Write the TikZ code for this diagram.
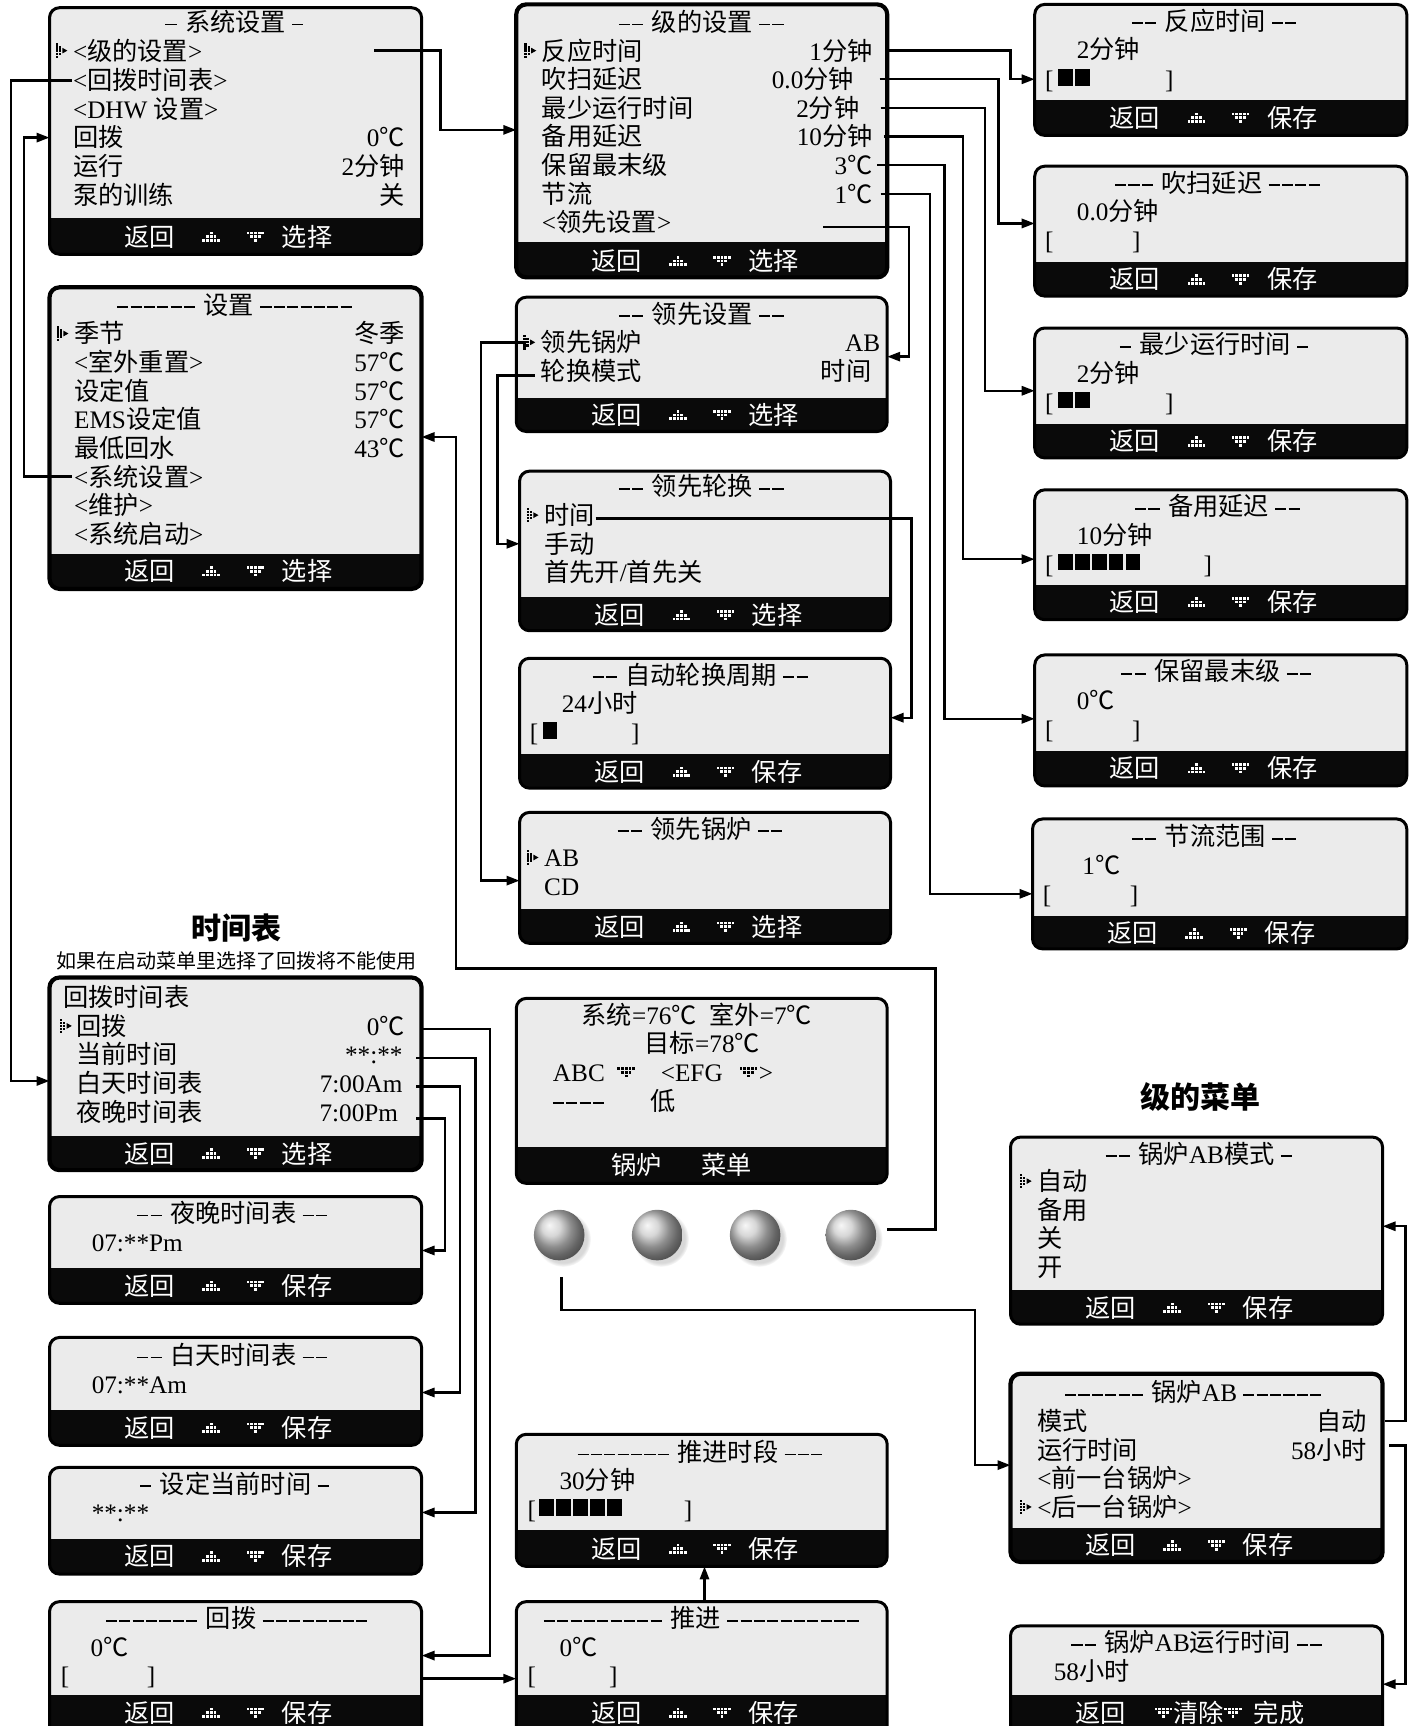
\documentclass[tikz,border=0pt]{standalone}
\usepackage{fontspec}
\setmainfont{Liberation Serif}
\newfontfamily\cjk{Noto Sans CJK SC}
\usetikzlibrary{arrows.meta,fit,shadows}
\XeTeXinterchartokenstate=1
\newXeTeXintercharclass\cjkcls
\count255="3000
\loop
  \XeTeXcharclass\count255=\cjkcls
  \advance\count255 by 1
\ifnum\count255<"A000 \repeat
\XeTeXcharclass"2103=\cjkcls
\XeTeXinterchartoks 0 \cjkcls = {\cjk}
\XeTeXinterchartoks 4095 \cjkcls = {\cjk}
\XeTeXinterchartoks \cjkcls 0 = {\rmfamily}
\XeTeXinterchartoks \cjkcls 4095 = {\rmfamily}
\definecolor{scrbg}{HTML}{EBEBEB}
\definecolor{barc}{HTML}{0A0A0A}
\tikzset{
  t/.style={anchor=west, inner sep=0pt, text height=11pt, text depth=1.6pt, font=\fontsize{12.6}{15}\selectfont},
  tw/.style={t, text=white, anchor=center},
  conn/.style={line width=1.2pt},
  arr/.style={conn, -{Triangle[length=6.5pt,width=4.6pt]}},
  frame/.style={draw, inner sep=0pt, rounded corners=5pt, line width=#1},
}
\newcommand\Dd{\raisebox{0.24em}{\rule{0.44em}{0.07em}}\kern0.09em}
\newcommand\Tl[4]{\node[t] (#1) at (#2,#3) {#4};}
\newcommand\Tr[4]{\node[t,anchor=east] (#1) at (#2,#3) {#4};}
\newcommand\Tc[4]{\node[t,anchor=center] (#1) at (#2,#3) {#4};}
\newcommand\Screen[7]{%
  \begin{scope}
    \clip[rounded corners=5pt] (#2,#3) rectangle (#4,#5);
    \fill[scrbg] (#2,#3) rectangle (#4,#6);
    \fill[barc] (#2,#6) rectangle (#4,#5);
  \end{scope}
  \node[frame=#7, fit={(#2,#3) (#4,#5)}] (#1) {};
}
\newcommand\upic[3][white]{\begin{scope}[shift={({#2},{#3})}]
  \foreach \dx/\dy in {0/-3.4,-3.4/0,0/0,3.4/0,-6.8/3.4,-3.4/3.4,0/3.4,3.4/3.4,6.8/3.4}
    \fill[#1] (\dx-1.25,\dy-1.25) rectangle ++(2.5,2.5);
  \end{scope}}
\newcommand\dnic[3][white]{\begin{scope}[shift={({#2},{#3})}]
  \foreach \dx/\dy in {-6.8/-3.4,-3.4/-3.4,0/-3.4,3.4/-3.4,6.8/-3.4,-3.4/0,0/0,3.4/0,0/3.4}
    \fill[#1] (\dx-1.25,\dy-1.25) rectangle ++(2.5,2.5);
  \end{scope}}
\newcommand\Cur[2]{\begin{scope}[shift={({#1},{#2})}]
  \foreach \dx/\dy in {-4.5/-5.6,-4.5/-2.8,-4.5/0,-4.5/2.8,-4.5/5.6,-1.7/-2.8,-1.7/0,-1.7/2.8}
    \fill (\dx-1.05,\dy-1.05) rectangle ++(2.1,2.1);
  \fill (0.6,-2.6) -- (5.2,0) -- (0.6,2.6) -- cycle;
  \end{scope}}
\newcommand\Blk[3]{\foreach \k in {1,...,#3} \fill ({#1+(\k-1)*15.4},{#2-9}) rectangle ++(13.4,15);}
\newcommand\Foot[4]{%
  \node[tw] (#1-b) at ({#2+91},#3) {返回};
  \upic{#2+147}{#3}
  \dnic{#2+187}{#3}
  \node[tw] (#1-s) at ({#2+234},#3) {#4};
}
\begin{document}
\begin{tikzpicture}[x=0.55pt,y=-0.55pt]
\useasboundingbox[fill=white] (0,0) rectangle (1286,1568);
% ---------- screens
\Screen{A}{45}{7}{383}{231}{198}{1.5pt}
\Screen{B}{469}{4}{806}{252}{220}{2.1pt}
\Screen{C}{45}{261}{383}{535}{503}{2.1pt}
\Screen{D}{469}{270}{806}{392}{362}{1.5pt}
\Screen{E}{472}{428}{809}{573}{542}{1.5pt}
\Screen{F}{472}{598}{809}{716}{685}{1.5pt}
\Screen{G}{472}{738}{809}{857}{826}{1.5pt}
\Screen{R1}{940}{4}{1278}{123}{91}{1.5pt}
\Screen{R2}{940}{151}{1278}{269}{238}{1.5pt}
\Screen{R3}{940}{298}{1278}{416}{385}{1.5pt}
\Screen{R4}{940}{445}{1278}{563}{531}{1.5pt}
\Screen{R5}{940}{595}{1278}{714}{682}{1.5pt}
\Screen{R6}{938}{744}{1278}{862}{832}{1.5pt}
\Screen{H}{45}{888}{383}{1063}{1032}{2.1pt}
\Screen{I}{45}{1087}{383}{1184}{1152}{1.5pt}
\Screen{J}{45}{1215}{383}{1313}{1281}{1.5pt}
\Screen{K}{45}{1333}{383}{1430}{1398}{1.5pt}
\Screen{L}{45}{1455}{383}{1600}{1540}{1.5pt}
\Screen{M}{469}{907}{806}{1075}{1042}{1.5pt}
\Screen{N}{469}{1303}{806}{1423}{1390}{1.5pt}
\Screen{O}{469}{1455}{806}{1600}{1540}{1.5pt}
\Screen{P}{918}{1033}{1256}{1203}{1172}{1.5pt}
\Screen{Q}{918}{1248}{1256}{1419}{1388}{2.1pt}
\Screen{S}{918}{1477}{1256}{1600}{1540}{1.5pt}
% ---------- A
\Tc{A0}{214}{20}{\Dd\ 系统设置 \Dd}
\Cur{56}{46}
\Tl{A1}{66}{46}{<级的设置>}
\Tl{A2}{66}{73}{<回拨时间表>}
\Tl{A3}{66}{99}{<DHW 设置>}
\Tl{A4}{66}{125}{回拨} \Tr{A4v}{368}{125}{0℃}
\Tl{A5}{66}{151}{运行} \Tr{A5v}{368}{151}{2分钟}
\Tl{A6}{66}{177}{泵的训练} \Tr{A6v}{368}{177}{关}
\Foot{A}{45}{215}{选择}
% ---------- B
\Tc{B0}{638}{20}{\Dd\Dd\ 级的设置 \Dd\Dd}
\Cur{482}{46}
\Tl{B1}{492}{46}{反应时间} \Tr{B1v}{793}{46}{1分钟}
\Tl{B2}{492}{72}{吹扫延迟} \Tr{B2v}{776}{72}{0.0分钟}
\Tl{B3}{492}{98}{最少运行时间} \Tr{B3v}{781}{98}{2分钟}
\Tl{B4}{492}{124}{备用延迟} \Tr{B4v}{793}{124}{10分钟}
\Tl{B5}{492}{150}{保留最末级} \Tr{B5v}{793}{150}{3℃}
\Tl{B6}{492}{176}{节流} \Tr{B6v}{793}{176}{1℃}
\Tl{B7}{492}{202}{<领先设置>}
\Foot{B}{469}{237}{选择}
% ---------- C
\Tc{C0}{214}{277}{\Dd\Dd\Dd\Dd\Dd\Dd\ 设置 \Dd\Dd\Dd\Dd\Dd\Dd\Dd}
\Cur{57}{303}
\Tl{C1}{67}{303}{季节} \Tr{C1v}{368}{303}{冬季}
\Tl{C2}{67}{329}{<室外重置>} \Tr{C2v}{368}{329}{57℃}
\Tl{C3}{67}{355}{设定值} \Tr{C3v}{368}{355}{57℃}
\Tl{C4}{67}{381}{EMS设定值} \Tr{C4v}{368}{381}{57℃}
\Tl{C5}{67}{407}{最低回水} \Tr{C5v}{368}{407}{43℃}
\Tl{C6}{67}{433}{<系统设置>}
\Tl{C7}{67}{459}{<维护>}
\Tl{C8}{67}{485}{<系统启动>}
\Foot{C}{45}{519}{选择}
% ---------- D
\Tc{D0}{638}{285}{\Dd\Dd\ 领先设置 \Dd\Dd}
\Cur{481}{311}
\Tl{D1}{491}{311}{领先锅炉} \Tr{D1v}{800}{311}{AB}
\Tl{D2}{491}{337}{轮换模式} \Tr{D2v}{792}{337}{时间}
\Foot{D}{469}{377}{选择}
% ---------- E
\Tc{E0}{638}{442}{\Dd\Dd\ 领先轮换 \Dd\Dd}
\Cur{484}{468}
\Tl{E1}{494}{468}{时间}
\Tl{E2}{494}{494}{手动}
\Tl{E3}{494}{520}{首先开/首先关}
\Foot{E}{472}{559}{选择}
% ---------- F
\Tc{F0}{637}{613}{\Dd\Dd\ 自动轮换周期 \Dd\Dd}
\Tl{F1}{510}{639}{24小时}
\Tl{F2}{481}{665}{[} \Blk{493}{665}{1} \Tl{F3}{573}{665}{]}
\Foot{F}{472}{701}{保存}
% ---------- G
\Tc{G0}{637}{753}{\Dd\Dd\ 领先锅炉 \Dd\Dd}
\Cur{484}{779}
\Tl{G1}{494}{779}{AB}
\Tl{G2}{494}{805}{CD}
\Foot{G}{472}{842}{选择}
% ---------- R column
\Tc{R1t}{1104}{19}{\Dd\Dd\ 反应时间 \Dd\Dd}
\Tl{R1a}{978}{45}{2分钟}
\Tl{R1b}{949}{72}{[} \Blk{961}{72}{2} \Tl{R1c}{1058}{72}{]}
\Foot{R1}{940}{107}{保存}
\Tc{R2t}{1107}{166}{\Dd\Dd\Dd\ 吹扫延迟 \Dd\Dd\Dd\Dd}
\Tl{R2a}{978}{192}{0.0分钟}
\Tl{R2b}{949}{218}{[} \Tl{R2c}{1028}{218}{]}
\Foot{R2}{940}{254}{保存}
\Tc{R3t}{1104}{313}{\Dd\ 最少运行时间 \Dd}
\Tl{R3a}{978}{339}{2分钟}
\Tl{R3b}{949}{365}{[} \Blk{961}{365}{2} \Tl{R3c}{1058}{365}{]}
\Foot{R3}{940}{401}{保存}
\Tc{R4t}{1107}{460}{\Dd\Dd\ 备用延迟 \Dd\Dd}
\Tl{R4a}{978}{486}{10分钟}
\Tl{R4b}{949}{512}{[} \Blk{961}{512}{5} \Tl{R4c}{1093}{512}{]}
\Foot{R4}{940}{547}{保存}
\Tc{R5t}{1106}{610}{\Dd\Dd\ 保留最末级 \Dd\Dd}
\Tl{R5a}{978}{636}{0℃}
\Tl{R5b}{949}{662}{[} \Tl{R5c}{1028}{662}{]}
\Foot{R5}{940}{698}{保存}
\Tc{R6t}{1104}{760}{\Dd\Dd\ 节流范围 \Dd\Dd}
\Tl{R6a}{983}{786}{1℃}
\Tl{R6b}{947}{812}{[} \Tl{R6c}{1026}{812}{]}
\Foot{R6}{938}{848}{保存}
% ---------- headings
\node[inner sep=0pt, font=\fontsize{15}{18}\selectfont\bfseries] (hT) at (215,843) {时间表};
\node[inner sep=0pt, font=\fontsize{10}{12}\selectfont] (hS) at (215,873) {如果在启动菜单里选择了回拨将不能使用};
\node[inner sep=0pt, font=\fontsize{15}{18}\selectfont\bfseries] (hJ) at (1091,997) {级的菜单};
% ---------- H
\Tl{H0}{57}{906}{回拨时间表}
\Cur{60}{932}
\Tl{H1}{69}{932}{回拨} \Tr{H1v}{368}{932}{0℃}
\Tl{H2}{69}{958}{当前时间} \Tr{H2v}{366}{958}{**:**}
\Tl{H3}{69}{984}{白天时间表} \Tr{H3v}{366}{984}{7:00Am}
\Tl{H4}{69}{1010}{夜晚时间表} \Tr{H4v}{362}{1010}{7:00Pm}
\Foot{H}{45}{1048}{选择}
% ---------- I J K L
\Tc{I0}{212}{1102}{\Dd\Dd\ 夜晚时间表 \Dd\Dd}
\Tl{I1}{83}{1128}{07:**Pm}
\Foot{I}{45}{1168}{保存}
\Tc{J0}{212}{1231}{\Dd\Dd\ 白天时间表 \Dd\Dd}
\Tl{J1}{83}{1257}{07:**Am}
\Foot{J}{45}{1297}{保存}
\Tc{K0}{214}{1348}{\Dd\ 设定当前时间 \Dd}
\Tl{K1}{83}{1374}{**:**}
\Foot{K}{45}{1414}{保存}
\Tc{L0}{216}{1470}{\Dd\Dd\Dd\Dd\Dd\Dd\Dd\ 回拨 \Dd\Dd\Dd\Dd\Dd\Dd\Dd\Dd}
\Tl{L1}{82}{1496}{0℃}
\Tl{L2}{55}{1522}{[} \Tl{L3}{133}{1522}{]}
\Foot{L}{45}{1556}{保存}
% ---------- M (main screen)
\Tc{M1}{633}{922}{系统=76℃\hspace{0.5em}室外=7℃}
\Tc{M2}{638}{948}{目标=78℃}
\Tl{M3}{502}{974}{ABC} \dnic[black]{569}{974}
\Tl{M4}{600}{974}{<EFG} \dnic[black]{680}{974} \Tl{M5}{689}{974}{>}
\Tl{M6}{502}{1000}{\Dd\Dd\Dd\Dd} \Tl{M7}{591}{1000}{低}
\node[tw] (M8) at (578,1058) {锅炉};
\node[tw] (M9) at (660,1058) {菜单};
\foreach \i/\x in {1/508,2/597,3/686,4/773}
  \node[circle, inner sep=0pt, minimum size=25.3pt, shade, ball color=gray!42,
        circular drop shadow={shadow xshift=1.8pt, shadow yshift=-1.8pt, opacity=0.3}] (btn\i) at (\x,1122) {};
% ---------- N O
\Tc{N0}{637}{1319}{\Dd\Dd\Dd\Dd\Dd\Dd\Dd\ 推进时段 \Dd\Dd\Dd}
\Tl{N1}{508}{1345}{30分钟}
\Tl{N2}{479}{1371}{[} \Blk{490}{1371}{5} \Tl{N3}{621}{1371}{]}
\Foot{N}{469}{1407}{保存}
\Tc{O0}{638}{1470}{\Dd\Dd\Dd\Dd\Dd\Dd\Dd\Dd\Dd\ 推进 \Dd\Dd\Dd\Dd\Dd\Dd\Dd\Dd\Dd\Dd}
\Tl{O1}{508}{1496}{0℃}
\Tl{O2}{479}{1522}{[} \Tl{O3}{553}{1522}{]}
\Foot{O}{469}{1556}{保存}
% ---------- P Q S
\Tc{P0}{1090}{1048}{\Dd\Dd\ 锅炉AB模式 \Dd}
\Cur{932}{1073}
\Tl{P1}{942}{1073}{自动}
\Tl{P2}{942}{1099}{备用}
\Tl{P3}{942}{1125}{关}
\Tl{P4}{942}{1151}{开}
\Foot{P}{918}{1188}{保存}
\Tc{Q0}{1085}{1265}{\Dd\Dd\Dd\Dd\Dd\Dd\ 锅炉AB \Dd\Dd\Dd\Dd\Dd\Dd}
\Tl{Q1}{942}{1291}{模式} \Tr{Q1v}{1242}{1291}{自动}
\Tl{Q2}{942}{1317}{运行时间} \Tr{Q2v}{1242}{1317}{58小时}
\Tl{Q3}{942}{1343}{<前一台锅炉>}
\Cur{932}{1369}
\Tl{Q4}{942}{1369}{<后一台锅炉>}
\Foot{Q}{918}{1404}{保存}
\Tc{S0}{1088}{1492}{\Dd\Dd\ 锅炉AB运行时间 \Dd\Dd}
\Tl{S1}{957}{1518}{58小时}
\node[tw] (S-b) at (1000,1556) {返回};
\dnic{1057}{1556}
\node[tw] (S-c) at (1089,1556) {清除};
\dnic{1120}{1556}
\node[tw] (S-d) at (1162,1556) {完成};
% ---------- connector end points
\coordinate (a1s) at (340,46);   \coordinate (bin) at (469,118);
\coordinate (a2s) at (65,73);    \coordinate (hin) at (45,982);
\coordinate (c6s) at (65,433);   \coordinate (ain) at (45,125);
\coordinate (b1s) at (808,46);   \coordinate (r1in) at (940,72);
\coordinate (b2s) at (799,72);   \coordinate (r2in) at (940,203);
\coordinate (b3s) at (800,98);   \coordinate (r3in) at (940,355);
\coordinate (b4s) at (803,124);  \coordinate (r4in) at (940,508);
\coordinate (b5s) at (797,150);  \coordinate (r5in) at (940,653);
\coordinate (b6s) at (800,176);  \coordinate (r6in) at (938,812);
\coordinate (b7s) at (748,206);  \coordinate (din) at (806,324);
\coordinate (d1s) at (478,311);  \coordinate (gin) at (472,800);
\coordinate (d2s) at (486,341);  \coordinate (ein) at (472,494);
\coordinate (e1s) at (541,471);  \coordinate (fin) at (809,652);
\coordinate (h1s) at (383,935);  \coordinate (lin) at (383,1504);
\coordinate (h2s) at (378,961);  \coordinate (kin) at (383,1374);
\coordinate (h3s) at (378,987);  \coordinate (jin) at (383,1265);
\coordinate (h4s) at (378,1016); \coordinate (iin) at (383,1136);
\coordinate (ls) at (383,1525);  \coordinate (oin) at (469,1525);
\coordinate (os) at (640,1455);  \coordinate (nin) at (640,1423);
\coordinate (m4s) at (806,1117); \coordinate (cin) at (383,397);
\coordinate (m1s) at (510,1160); \coordinate (qin) at (918,1331);
\coordinate (q1s) at (1258,1291); \coordinate (pin) at (1256,1114);
\coordinate (q2s) at (1262,1313); \coordinate (sin) at (1256,1530);
% ---------- connectors
\draw[arr] (a1s) -- (400,46) |- (bin);
\draw[arr] (a2s) -- (10,73) |- (hin);
\draw[arr] (c6s) -- (22,433) |- (ain);
\draw[arr] (b1s) -- (918,46) |- (r1in);
\draw[arr] (b2s) -- (907,72) |- (r2in);
\draw[arr] (b3s) -- (895,98) |- (r3in);
\draw[arr] (b4s) -- (875,124) |- (r4in);
\draw[arr] (b5s) -- (858,150) |- (r5in);
\draw[arr] (b6s) -- (845,176) |- (r6in);
\draw[arr] (b7s) -- (826,206) |- (din);
\draw[arr] (d1s) -- (437,311) |- (gin);
\draw[arr] (d2s) -- (452,341) |- (ein);
\draw[arr] (e1s) -- (828,471) |- (fin);
\draw[arr] (h1s) -- (445,935) |- (lin);
\draw[arr] (h2s) -- (432,961) |- (kin);
\draw[arr] (h3s) -- (418,987) |- (jin);
\draw[arr] (h4s) -- (404,1016) |- (iin);
\draw[arr] (ls) -- (oin);
\draw[arr] (os) -- (nin);
\draw[arr] (m4s) -- (850,1117) -- (850,880) -- (414,880) |- (cin);
\draw[arr] (m1s) -- (510,1190) -- (886,1190) |- (qin);
\draw[arr] (q1s) -- (1277,1291) |- (pin);
\draw[arr] (q2s) -- (1277,1313) |- (sin);
\end{tikzpicture}
\end{document}
